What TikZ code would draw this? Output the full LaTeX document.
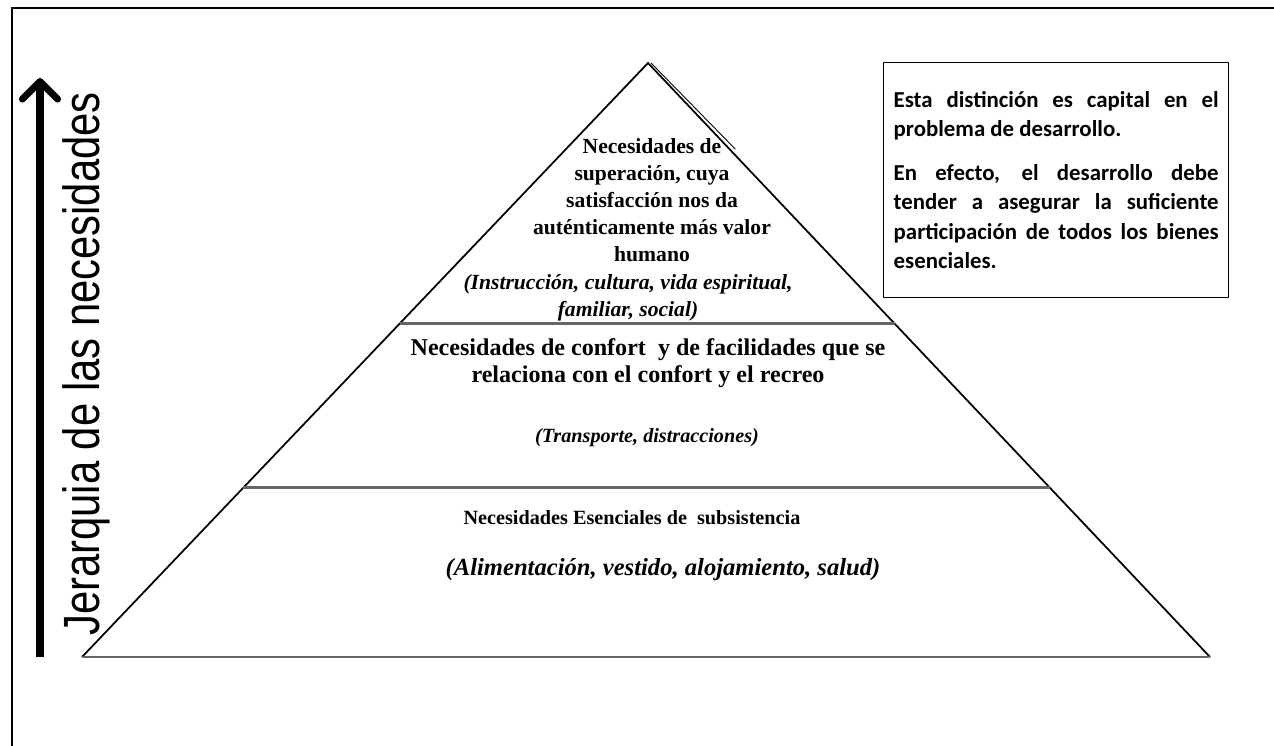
\documentclass[tikz,border=0pt]{standalone}
\usepackage{fontspec}
\setmainfont{Liberation Serif}
\newfontfamily\notafont{Carlito}
\newfontfamily\ejefont[FakeStretch=0.82]{Liberation Sans}
\usetikzlibrary{arrows.meta,calc}

\begin{document}
\begin{tikzpicture}[x=0.02cm, y=-0.02cm,
		nivel/.style={align=center, inner sep=0pt},
		franja/.style={line width=1.6pt, black!60},
		lado/.style={line width=1pt}]
			
			\useasboundingbox (0,0) rectangle (1274,746);
			
			% marco
			\draw [line width=1pt] (12,746) -- (12,8) -- (1274,8);
			
			% piramide
			\coordinate (apex) at (648,63);
			\coordinate (bl) at (82,657);
			\coordinate (br) at (1210,657);
			\draw [lado] (bl) -- (apex) -- (br);
			\draw [line width=0.5pt] ($(apex)+(3,0)$) -- ($(apex)!0.15!(br)+(3,-3)$);
			\draw [franja] ($(apex)!0.439!(bl)$) -- ($(apex)!0.439!(br)$);
			\draw [franja] ($(apex)!0.715!(bl)$) -- ($(apex)!0.715!(br)$);
			\draw [franja] (bl) -- (br);
			
			% textos de los niveles
			\node (superacion) [nivel, font=\bfseries\fontsize{12.3}{15.3}\selectfont] at (652,200)
				{Necesidades de\\ superación, cuya\\ satisfacción nos da\\ auténticamente más valor\\ humano};
			\node (instruccion) [nivel, font=\bfseries\itshape\fontsize{12.3}{15.3}\selectfont] at (628,298)
				{(Instrucción, cultura, vida espiritual,\\ familiar, social)};
			\node (confort) [nivel, font=\bfseries\fontsize{13.7}{15.3}\selectfont] at (648,363)
				{Necesidades de confort \ y de facilidades que se\\ relaciona con el confort y el recreo};
			\node (transporte) [nivel, font=\bfseries\itshape\fontsize{11.5}{14}\selectfont] at (647,438)
				{(Transporte, distracciones)};
			\node (esenciales) [nivel, font=\bfseries\fontsize{11.5}{14}\selectfont] at (632,518)
				{Necesidades Esenciales de \ subsistencia};
			\node (alimentacion) [nivel, font=\bfseries\itshape\fontsize{14}{16}\selectfont] at (663,570)
				{(Alimentación, vestido, alojamiento, salud)};
			
			% nota
			\node (nota) [draw, line width=0.8pt, minimum width=6.9cm, minimum height=4.7cm,
				text width=6.5cm, align=justify, anchor=north west,
				execute at begin node={\setlength{\baselineskip}{16.8pt}},
				font=\notafont\bfseries\fontsize{13}{16.8}\selectfont] at (883,62)
				{Esta distinción es capital en el\linebreak problema de desarrollo.\par\vspace{8pt}
				En efecto, el desarrollo debe\linebreak tender a asegurar la suficiente\linebreak
				participación de todos los bienes\linebreak esenciales.};
			
			% eje
			\coordinate (pie) at (40,657);
			\coordinate (punta) at (40,78);
			\draw [line width=4pt, -{Straight Barb[length=10pt,width=20pt,line width=4pt,round]}] (pie) -- (punta);
			\node (jerarquia) [rotate=90, font=\ejefont\fontsize{29}{32}\selectfont] at (86,364)
				{Jerarquia de las necesidades};
			
\end{tikzpicture}
\end{document}
